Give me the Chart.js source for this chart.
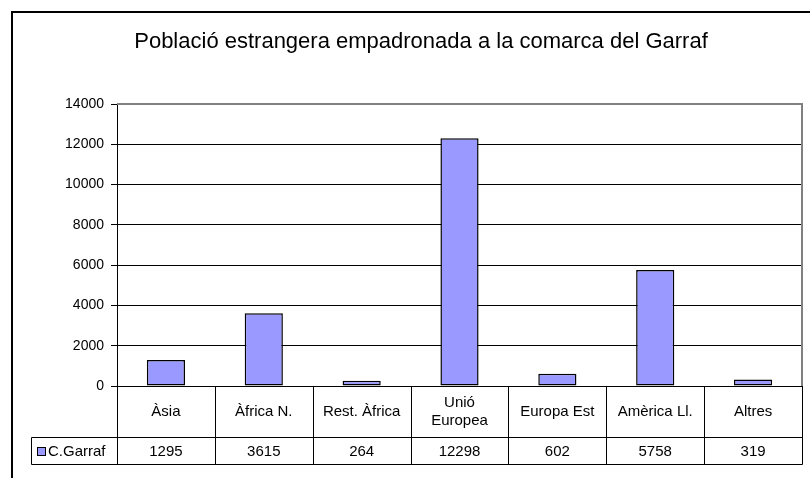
<!DOCTYPE html>
<html>
<head>
<meta charset="utf-8">
<script src="https://cdn.jsdelivr.net/npm/chart.js@4"></script>
<style>
  body { margin: 0; background: #fff; }
  #caixa { width: 810px; height: 478px; }
</style>
</head>
<body>
<div id="caixa"><canvas id="grafic" width="810" height="478"></canvas></div>
<script>
// ====== DADES ======
const titol = "Població estrangera empadronada a la comarca del Garraf";
const categories = ["Àsia", "Àfrica N.", "Rest. Àfrica", ["Unió", "Europea"], "Europa Est", "Amèrica Ll.", "Altres"];
const serieNom = "C.Garraf";
const valors = [1295, 3615, 264, 12298, 602, 5758, 319];
const ticksY = [0, 2000, 4000, 6000, 8000, 10000, 12000, 14000];

const FONT = '"Liberation Sans", Arial, sans-serif';
const BLAU = "#9999ff";

// ====== MARC I TITOL ======
const marcPlugin = {
  id: "marc",
  beforeDraw(chart) {
    const { ctx, width, height } = chart;
    ctx.save();
    ctx.fillStyle = "#fff";
    ctx.fillRect(0, 0, width, height);
    ctx.strokeStyle = "#000";
    ctx.lineWidth = 2;
    ctx.beginPath();
    ctx.moveTo(12, height);
    ctx.lineTo(12, 12);
    ctx.lineTo(width, 12);
    ctx.stroke();

    ctx.fillStyle = "#000";
    ctx.font = "22px " + FONT;
    ctx.textAlign = "center";
    ctx.textBaseline = "middle";
    ctx.fillText(titol, 421, 42);
    ctx.restore();
  },
  afterDraw(chart) {
    const { ctx, chartArea: a } = chart;
    // vora dreta i superior grisa
    ctx.save();
    ctx.strokeStyle = "#808080";
    ctx.lineWidth = 2;
    ctx.beginPath();
    ctx.moveTo(a.left, a.top);
    ctx.lineTo(a.right, a.top);
    ctx.lineTo(a.right, a.bottom);
    ctx.stroke();
    ctx.restore();
  }
};

// ====== TAULA DE DADES ======
const taulaPlugin = {
  id: "taula",
  afterDraw(chart) {
    const { ctx, chartArea: a, scales: { x } } = chart;
    const n = categories.length;
    const w = (a.right - a.left) / n;
    const px = v => Math.round(v) + 0.5;
    const y0 = px(a.bottom), y1 = px(a.bottom + 51), y2 = px(a.bottom + 78);
    const esq = px(31);

    ctx.save();
    ctx.strokeStyle = "#000";
    ctx.lineWidth = 1;
    ctx.beginPath();
    ctx.moveTo(esq, y1); ctx.lineTo(px(a.right), y1);
    ctx.moveTo(esq, y2); ctx.lineTo(px(a.right), y2);
    ctx.moveTo(esq, y1); ctx.lineTo(esq, y2);
    for (let i = 0; i < n; i++) {
      const xx = px(x.getPixelForValue(i) - w / 2);
      ctx.moveTo(xx, y0); ctx.lineTo(xx, y2);
    }
    ctx.moveTo(px(a.right), y0); ctx.lineTo(px(a.right), y2);
    ctx.stroke();

    ctx.fillStyle = "#000";
    ctx.font = "15px " + FONT;
    ctx.textAlign = "center";
    ctx.textBaseline = "middle";
    categories.forEach((c, i) => {
      const cx = x.getPixelForValue(i);
      const linies = Array.isArray(c) ? c : [c];
      const mig = (y0 + y1) / 2;
      linies.forEach((t, k) => {
        ctx.fillText(t, cx, mig + (k - (linies.length - 1) / 2) * 18);
      });
      ctx.fillText(String(valors[i]), cx, (y1 + y2) / 2 + 1);
    });

    // llegenda
    ctx.fillStyle = BLAU;
    ctx.fillRect(37.5, 447.5, 8, 8);
    ctx.strokeRect(37.5, 447.5, 8, 8);
    ctx.fillStyle = "#000";
    ctx.textAlign = "left";
    ctx.fillText(serieNom, 48, (y1 + y2) / 2 + 1);
    ctx.restore();
  }
};

// ====== GRAFIC ======
new Chart(document.getElementById("grafic"), {
  type: "bar",
  data: {
    labels: categories,
    datasets: [{
      label: serieNom,
      data: valors,
      backgroundColor: BLAU,
      borderColor: "#000",
      borderWidth: 1.5,
      borderSkipped: false,
      categoryPercentage: 1,
      barPercentage: 0.39
    }]
  },
  options: {
    responsive: false,
    animation: false,
    layout: { padding: { left: 0, right: 8, top: 104, bottom: 92 } },
    plugins: { legend: { display: false }, title: { display: false }, tooltip: { enabled: false } },
    scales: {
      x: {
        ticks: { display: false },
        grid: { display: false, drawTicks: false },
        border: { display: true, color: "#000", width: 1 }
      },
      y: {
        min: ticksY[0],
        max: ticksY[ticksY.length - 1],
        afterBuildTicks: s => { s.ticks = ticksY.map(v => ({ value: v })); },
        afterFit: s => { s.width = 117; },
        ticks: {
          color: "#000",
          font: { family: FONT, size: 14 },
          padding: 7,
          callback: v => String(v)
        },
        grid: { color: "#000", lineWidth: 1, tickLength: 6 },
        border: { color: "#000", width: 1 }
      }
    }
  },
  plugins: [marcPlugin, taulaPlugin]
});
</script>
</body>
</html>
